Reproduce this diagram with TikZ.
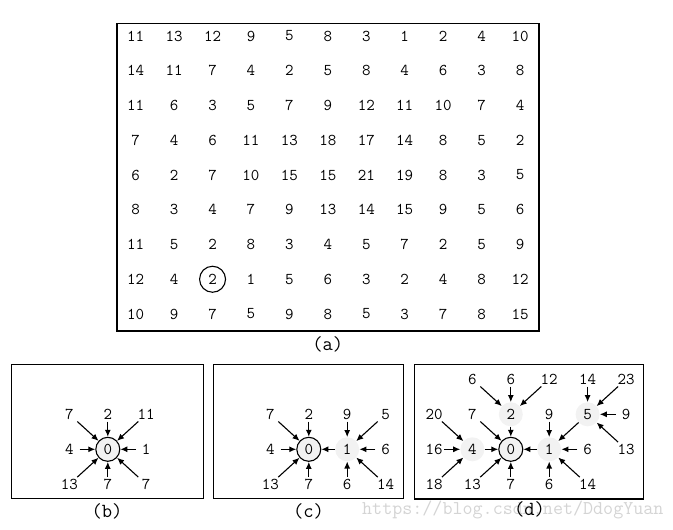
\documentclass[tikz,border=0pt]{standalone}
\usetikzlibrary{arrows.meta}
\definecolor{nodegray}{HTML}{F2F2F2}
\definecolor{wmgray}{HTML}{D4D4D4}
\begin{document}
\begin{tikzpicture}[x=1pt,y=-1pt,
  num/.style={font=\fontsize{16.5}{16.5}\selectfont\ttfamily, inner sep=0pt, minimum width=20pt, minimum height=14pt},
  captext/.style={font=\fontsize{20}{20}\selectfont\ttfamily, inner sep=0pt},
  panel/.style={draw, line width=1.2pt},
  gnode/.style={circle, fill=nodegray, minimum size=24pt, inner sep=0pt, font=\fontsize{16.5}{16.5}\selectfont\ttfamily},
  onode/.style={gnode, draw, line width=1.1pt},
  arr/.style={-{Latex[length=7pt,width=6pt]}, line width=1.1pt},
]
\useasboundingbox (0,0) rectangle (673,530);

% ---------- (a) ----------
\draw[panel] (117,23.5) rectangle (539,331);
\foreach \row [count=\r] in {
  {11,13,12,9,5,8,3,1,2,4,10},
  {14,11,7,4,2,5,8,4,6,3,8},
  {11,6,3,5,7,9,12,11,10,7,4},
  {7,4,6,11,13,18,17,14,8,5,2},
  {6,2,7,10,15,15,21,19,8,3,5},
  {8,3,4,7,9,13,14,15,9,5,6},
  {11,5,2,8,3,4,5,7,2,5,9},
  {12,4,2,1,5,6,3,2,4,8,12},
  {10,9,7,5,9,8,5,3,7,8,15}} {
  \foreach \v [count=\c] in \row {
    \node[num] (a-\r-\c) at ({135.7+38.43*(\c-1)}, {36+34.75*(\r-1)}) {\v};
  }
}
\node[draw, circle, minimum size=26pt, inner sep=0pt, line width=1.1pt] (acirc) at (a-8-3) {};
\node[captext] (capa) at (327.7,344) {(a)};

% ---------- (b) ----------
\draw[panel] (11.7,364.5) rectangle (203.5,498.5);
\begin{scope}[shift={(107.8,449.3)}, x=38.4pt, y=-35pt]
  \node[onode] (b0) at (0,0) {0};
  \node[num] (bl1) at (-1,-1) {7};
  \node[num] (bl2) at (0,-1) {2};
  \node[num] (bl3) at (1,-1) {11};
  \node[num] (bl4) at (-1,0) {4};
  \node[num] (bl5) at (1,0) {1};
  \node[num] (bl6) at (-1,1) {13};
  \node[num] (bl7) at (0,1) {7};
  \node[num] (bl8) at (1,1) {7};
  \foreach \i in {1,...,8} { \draw[arr] (bl\i) -- (b0); }
\end{scope}
\node[captext] (capb) at (107,511) {(b)};

% ---------- (c) ----------
\draw[panel] (213.5,364.5) rectangle (403.5,498.5);
\begin{scope}[shift={(308.8,449.3)}, x=38.4pt, y=-35pt]
  \node[onode] (c0) at (0,0) {0};
  \node[gnode] (c1) at (1,0) {1};
  \node[num] (cl1) at (-1,-1) {7};
  \node[num] (cl2) at (0,-1) {2};
  \node[num] (cl3) at (-1,0) {4};
  \node[num] (cl4) at (-1,1) {13};
  \node[num] (cl5) at (0,1) {7};
  \node[num] (cm1) at (1,-1) {9};
  \node[num] (cm2) at (2,-1) {5};
  \node[num] (cm3) at (2,0) {6};
  \node[num] (cm4) at (1,1) {6};
  \node[num] (cm5) at (2,1) {14};
  \foreach \i in {1,...,5} { \draw[arr] (cl\i) -- (c0); \draw[arr] (cm\i) -- (c1); }
  \draw[arr] (c1) -- (c0);
\end{scope}
\node[captext] (capc) at (308.5,511) {(c)};

% ---------- (d) ----------
\draw[panel] (414.7,364.5) rectangle (643.5,499);
\begin{scope}[shift={(510.8,449.3)}, x=38.4pt, y=-35pt]
  \node[onode] (d0) at (0,0) {0};
  \node[gnode] (d1) at (1,0) {1};
  \node[gnode] (d4) at (-1,0) {4};
  \node[gnode] (d2) at (0,-1) {2};
  \node[gnode] (d5) at (2,-1) {5};
  % into 2
  \node[num] (p1) at (-1,-2) {6};
  \node[num] (p2) at (0,-2) {6};
  \node[num] (p3) at (1,-2) {12};
  % into 5
  \node[num] (q1) at (2,-2) {14};
  \node[num] (q2) at (3,-2) {23};
  \node[num] (q3) at (3,-1) {9};
  \node[num] (q4) at (3,0) {13};
  % into 4
  \node[num] (s1) at (-2,-1) {20};
  \node[num] (s2) at (-2,0) {16};
  \node[num] (s3) at (-2,1) {18};
  % into 0
  \node[num] (t1) at (-1,-1) {7};
  \node[num] (t2) at (-1,1) {13};
  \node[num] (t3) at (0,1) {7};
  % into 1
  \node[num] (u1) at (1,-1) {9};
  \node[num] (u2) at (2,0) {6};
  \node[num] (u3) at (1,1) {6};
  \node[num] (u4) at (2,1) {14};
  \foreach \i in {1,2,3} { \draw[arr] (p\i) -- (d2); \draw[arr] (s\i) -- (d4); \draw[arr] (t\i) -- (d0); }
  \foreach \i in {1,...,4} { \draw[arr] (q\i) -- (d5); \draw[arr] (u\i) -- (d1); }
  \draw[arr] (d5) -- (d1);
  \draw[arr] (d1) -- (d0);
  \draw[arr] (d2) -- (d0);
  \draw[arr] (d4) -- (d0);
\end{scope}
\node[font=\fontsize{19.5}{19.5}\selectfont\ttfamily, text=wmgray, inner sep=0pt, anchor=west] (wm) at (362,510) {https://blog.csdn.net/DdogYuan};
\node[captext] (capd) at (529.5,509) {(d)};
\end{tikzpicture}
\end{document}
